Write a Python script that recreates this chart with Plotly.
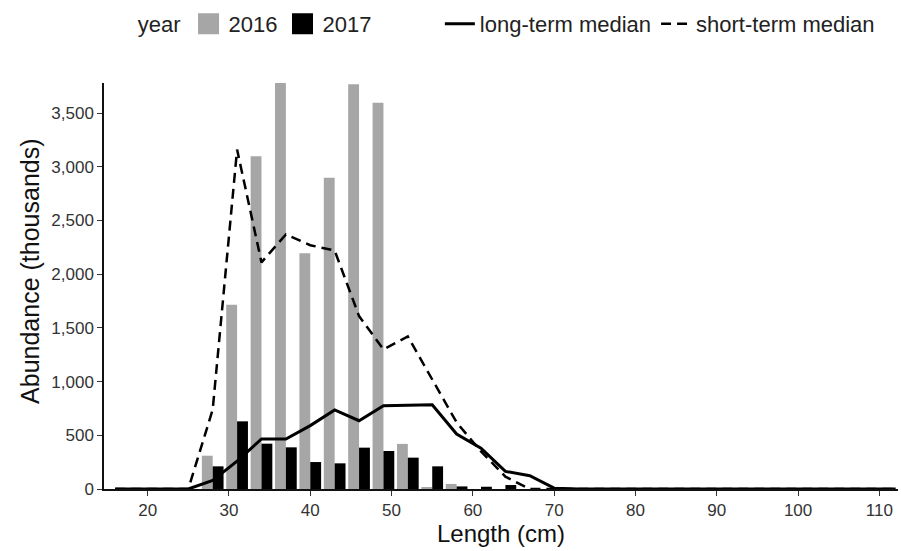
import plotly.graph_objects as go

# Bar data (length bins, cm)
bins = [28, 31, 34, 37, 40, 43, 46, 49, 52, 55, 58, 61, 64, 67, 70]
abund_2016 = [310, 1715, 3097, 3780, 2196, 2898, 3768, 3597, 420, 15, 47, 0, 0, 0, 0]
abund_2017 = [211, 630, 422, 388, 251, 239, 385, 354, 292, 211, 24, 21, 37, 0, 8]

# Median lines
line_len = list(range(16, 113, 3))
long_term = [0, 0, 0, 0, 80, 260, 466, 466, 590, 736, 636, 776, 780, 785, 512, 380,
             164, 124, 8] + [0] * 14
short_term = [0, 0, 0, 0, 740, 3160, 2110, 2370, 2270, 2220, 1610, 1300, 1420, 1020,
              620, 350, 115, 0] + [0] * 15

x_ticks = [20, 30, 40, 50, 60, 70, 80, 90, 100, 110]
y_ticks = [0, 500, 1000, 1500, 2000, 2500, 3000, 3500]

FONT = "Liberation Sans, Arial, sans-serif"
GREY = "#A6A6A6"

fig = go.Figure()
fig.add_trace(go.Bar(x=bins, y=abund_2016, name="2016", marker_color=GREY,
                     marker_line_width=0, showlegend=False))
fig.add_trace(go.Bar(x=bins, y=abund_2017, name="2017", marker_color="#000000",
                     marker_line_width=0, showlegend=False))
# legend keys for the bars (larger filled squares)
for name, col in [("2016", GREY), ("2017", "#000000")]:
    fig.add_trace(go.Scatter(x=[None], y=[None], mode="markers", name=name,
                             marker=dict(symbol="square", size=16, color=col,
                                         line=dict(color=col, width=5)),
                             legend="legend"))
fig.add_trace(go.Scatter(x=line_len, y=long_term, mode="lines", name="long-term median",
                         line=dict(color="black", width=3), legend="legend2"))
fig.add_trace(go.Scatter(x=line_len, y=short_term, mode="lines", name="short-term median",
                         line=dict(color="black", width=2.5, dash="10px,6px"),
                         legend="legend2"))

fig.update_layout(
    width=901, height=551,
    margin=dict(l=104, r=3, t=83, b=62, autoexpand=False),
    paper_bgcolor="white", plot_bgcolor="white",
    font=dict(family=FONT, color="black"),
    barmode="group", bargap=0.11, bargroupgap=0,
    legend=dict(orientation="h", x=0.040, y=1.197, xanchor="left", yanchor="top",
                title=dict(text="year", side="left", font=dict(size=22, color="#222")),
                font=dict(size=22, color="#222"), itemwidth=30, traceorder="normal",
                itemsizing="trace", bgcolor="rgba(0,0,0,0)"),
    legend2=dict(orientation="h", x=0.423, y=1.197, xanchor="left", yanchor="top",
                 font=dict(size=22, color="#222"), itemwidth=30, traceorder="normal",
                 bgcolor="rgba(0,0,0,0)"),
    xaxis=dict(range=[14.63, 112.29], tickvals=x_ticks, ticks="outside", ticklen=5,
               tickcolor="#333", tickwidth=1.2, showline=True, linecolor="#111",
               linewidth=1.5, showgrid=False, zeroline=False,
               tickfont=dict(size=17, color="#333"),
               title=dict(text="Length (cm)", font=dict(size=24, color="#111"), standoff=5)),
    yaxis=dict(range=[0, 3780], tickvals=y_ticks, tickformat=",d", ticks="outside",
               ticklen=5, tickcolor="#333", tickwidth=1.2, showline=True,
               linecolor="#111", linewidth=1.5, showgrid=False, zeroline=False,
               tickfont=dict(size=17, color="#333")),
    annotations=[dict(text="Abundance (thousands)", textangle=-90, showarrow=False,
                      xref="paper", yref="paper", x=-0.093, y=0.535,
                      xanchor="center", yanchor="middle",
                      font=dict(size=25, color="#111"))],
)

fig.write_html("out.html", config={"displayModeBar": False},
               post_script="document.body.style.margin='0px';document.body.style.overflow='hidden';")
